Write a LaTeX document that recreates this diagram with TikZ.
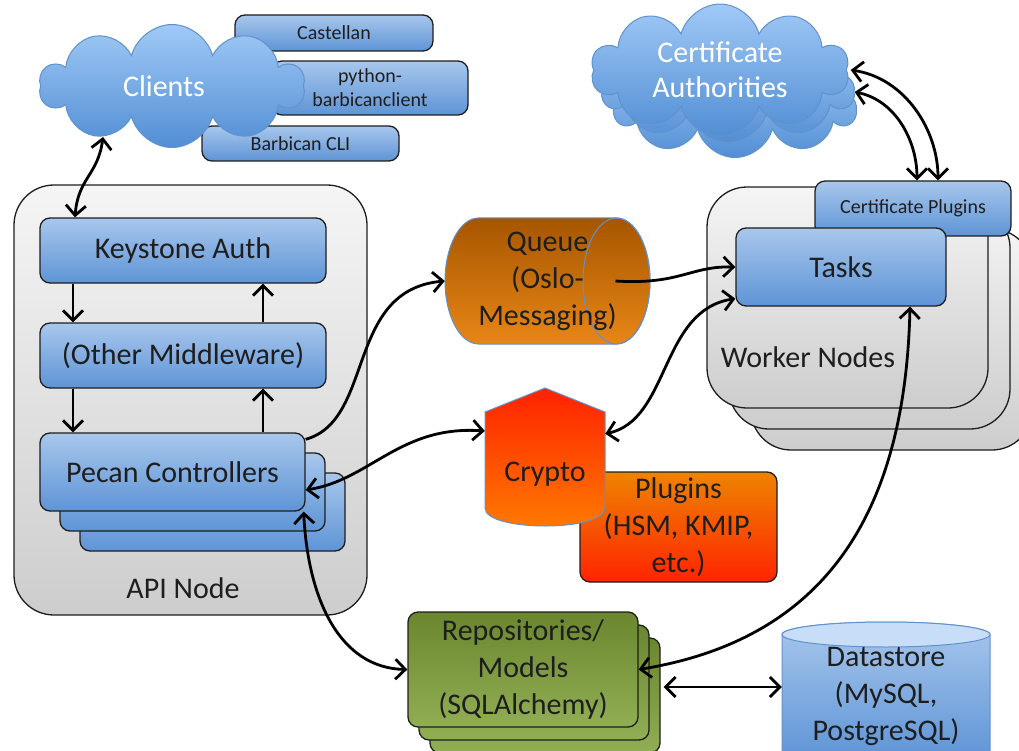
\documentclass[tikz,border=0pt]{standalone}
\usepackage{fontspec}
\setmainfont{Carlito}
\usetikzlibrary{arrows.meta,shapes.symbols}
\definecolor{ink}{RGB}{30,30,30}
\definecolor{blueTop}{RGB}{168,199,236}
\definecolor{blueBot}{RGB}{94,148,214}
\definecolor{cloudTop}{RGB}{160,201,246}
\definecolor{cloudBot}{RGB}{82,142,212}
\definecolor{cloudEdge}{RGB}{96,146,204}
\definecolor{greyTop}{RGB}{245,245,245}
\definecolor{greyBot}{RGB}{205,205,205}
\definecolor{greenTop}{RGB}{106,134,46}
\definecolor{greenBot}{RGB}{146,174,84}
\definecolor{queueTop}{RGB}{166,86,0}
\definecolor{queueBot}{RGB}{232,134,22}
\definecolor{redTop}{RGB}{255,34,0}
\definecolor{redBot}{RGB}{255,124,0}
\definecolor{plugTop}{RGB}{238,132,0}
\definecolor{plugBot}{RGB}{255,36,0}
\definecolor{storeTop}{RGB}{200,222,248}
\begin{document}
\begin{tikzpicture}[x=1pt, y=-1pt, >={Straight Barb[length=10pt,width=20pt]},
  txt/.style={text=ink, font=\fontsize{30}{37}\selectfont, align=center},
  sm/.style={font=\fontsize{20}{24}\selectfont},
  box/.style={txt, draw=ink, line width=1.3pt, rounded corners=10pt, top color=blueTop, bottom color=blueBot, inner sep=0pt},
  green/.style={box, top color=greenTop, bottom color=greenBot},
  plug/.style={box, top color=plugTop, bottom color=plugBot},
  shell/.style={draw=ink, line width=1.3pt, rounded corners=40pt, top color=greyTop, bottom color=greyBot, inner sep=0pt},
  puff/.style={cloud, cloud puffs=10, cloud ignores aspect, draw=cloudEdge, line width=1pt, top color=cloudTop, bottom color=cloudBot, text=white, font=\fontsize{30}{35}\selectfont, align=center},
  link/.style={line width=2.8pt}]
\useasboundingbox (0,0) rectangle (1019,751);

% clients
\node[box,sm,minimum width=198pt,minimum height=36pt] (castellan) at (334,33) {Castellan};
\node[box,sm,minimum width=196pt,minimum height=54pt] (pyclient) at (370,88) {python-\\barbicanclient};
\node[box,sm,minimum width=197pt,minimum height=35pt] (cli) at (300.5,143.5) {Barbican CLI};
\node[puff,minimum width=265pt,minimum height=123pt] (clients) at (172,86) {Clients\hspace*{16pt}};

% api node
\node[shell,minimum width=353pt,minimum height=430pt] (apinode) at (190.5,400) {};
\node[txt] (apilabel) at (183,588) {API Node};
\node[box,minimum width=286pt,minimum height=65pt] (keystone) at (183,250.5) {Keystone Auth};
\node[box,minimum width=286pt,minimum height=65pt] (middle) at (183,355.5) {(Other Middleware)};
\foreach \i in {2,1}
  \node[box,minimum width=265pt,minimum height=78pt] (pecan\i) at (172.5+20*\i,472+20*\i) {};
\node[box,minimum width=265pt,minimum height=78pt] (pecan) at (172.5,472) {Pecan Controllers};

% worker nodes
\foreach \i in {2,1}
  \node[shell,minimum width=281pt,minimum height=221pt] (worker\i) at (847.5+22*\i,297.5+21*\i) {};
\node[shell,minimum width=281pt,minimum height=221pt] (worker) at (847.5,297.5) {};
\node[txt] (workerlabel) at (808,357) {Worker Nodes};
\node[box,sm,minimum width=196pt,minimum height=55pt] (certplug) at (913,208.5) {Certificate Plugins};
\node[box,minimum width=210pt,minimum height=78pt] (tasks) at (841,267) {Tasks};

% certificate authorities
\node[puff,minimum width=240pt,minimum height=95pt] (ca2) at (735,110) {};
\node[puff,minimum width=250pt,minimum height=100pt] (ca1) at (728,92) {};
\node[puff,minimum width=258pt,minimum height=108pt] (ca) at (720,70) {Certificate\\Authorities\hspace*{0pt}};

% queue
\path[draw=cloudEdge,line width=1pt,top color=queueTop,bottom color=queueBot]
  (478.5,218) -- (616.5,218) .. controls (635,218) and (650,246.2) .. (650,281)
  .. controls (650,315.8) and (635,344) .. (616.5,344) -- (478.5,344)
  .. controls (460,344) and (445,315.8) .. (445,281)
  .. controls (445,246.2) and (460,218) .. (478.5,218) -- cycle;
\draw[cloudEdge,line width=1pt] (616.5,281) ellipse [x radius=33.5,y radius=63];
\node[txt,minimum width=205pt,minimum height=126pt,inner sep=0pt] (queue) at (547.5,281) {Queue\\(Oslo-\\Messaging)};

% crypto
\node[plug,minimum width=197pt,minimum height=110pt] (plugins) at (678.5,527) {Plugins\\(HSM, KMIP,\\etc.)};
\path[draw=cloudEdge,line width=1pt,top color=redTop,bottom color=redBot]
  (485,412) -- (545,388) -- (605,412) -- (605,508) .. controls (605,532) and (485,532) .. (485,508) -- cycle;
\node[txt,minimum width=120pt,minimum height=122pt,inner sep=0pt] (crypto) at (545,474) {Crypto};

% repositories and datastore
\foreach \i in {2,1}
  \node[green,minimum width=230pt,minimum height=115pt] (repo\i) at (523+11*\i,669.5+13*\i) {};
\node[green,minimum width=230pt,minimum height=115pt] (repo) at (523,669.5) {Repositories/\\Models\\(SQLAlchemy)};
\path[draw=cloudEdge,line width=1pt,top color=blueTop,bottom color=blueBot]
  (782,634.5) .. controls (782,627.6) and (828.6,622) .. (886,622)
  .. controls (943.4,622) and (990,627.6) .. (990,634.5) -- (990,760) -- (782,760) -- cycle;
\draw[cloudEdge,line width=1pt,fill=storeTop] (886,634.5) ellipse [x radius=104,y radius=12.5];
\node[txt,minimum width=208pt,minimum height=120pt,inner sep=0pt] (store) at (886,696) {Datastore\\(MySQL,\\PostgreSQL)};

% connectors
\draw[link,<->] ([xshift=-69pt,yshift=11pt]clients.south) .. controls (98,175) and (78,178) .. ([xshift=-108pt]keystone.north);
\draw[link,->] ([xshift=-110pt]keystone.south) -- ([xshift=-110pt]middle.north);
\draw[link,->] ([xshift=-110pt]middle.south) -- ([xshift=-110pt]middle.south |- pecan.north);
\draw[link,->] ([xshift=80pt]middle.south |- pecan.north) -- ([xshift=80pt]middle.south);
\draw[link,->] ([xshift=80pt]middle.north) -- ([xshift=80pt]keystone.south);
\draw[link,->] ([yshift=-7pt]pecan.north east) .. controls (375,420) and (345,290) .. (queue.west);
\draw[link,->] ([xshift=68pt]queue.center) .. controls (680,285) and (690,266) .. (tasks.west);
\draw[link,<->] ([yshift=-21pt]crypto.north east) .. controls (670,420) and (660,310) .. ([yshift=8pt]tasks.south west);
\draw[link,<->] ([yshift=-18pt]pecan.east) .. controls (370,480) and (400,425) .. ([yshift=43pt]crypto.west);
\draw[link,<->] ([xshift=-2pt]pecan.south east) .. controls (308,600) and (340,668) .. (repo.west);
\draw[link,<->] ([xshift=69pt]tasks.south) .. controls (905,520) and (820,640) .. (repo.east);
\draw[link,<->] ([xshift=3pt,yshift=8.5pt]repo2.east) -- ([yshift=9pt]store.west);
\draw[link,<->] ([xshift=4pt]ca.east) .. controls (905,78) and (938,130) .. ([xshift=25pt]certplug.north);
\draw[link,<->] (ca1.east) .. controls (895,100) and (917,140) .. ([xshift=4pt]certplug.north);
\end{tikzpicture}
\end{document}
